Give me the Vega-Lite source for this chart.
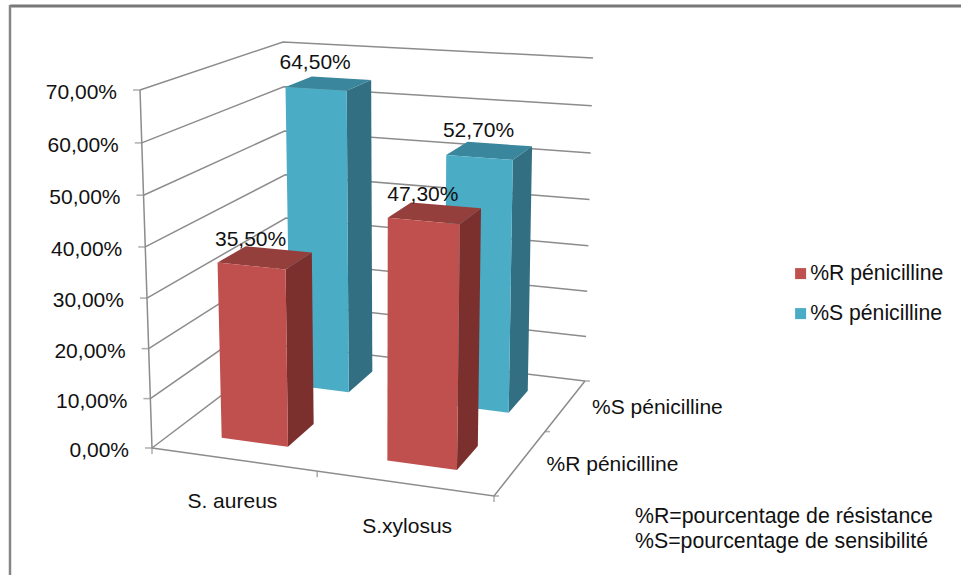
{
  "$schema": "https://vega.github.io/schema/vega-lite/v6.json",
  "width": 951,
  "height": 570,
  "autosize": "none",
  "padding": {"left": 10, "top": 5, "right": 0, "bottom": 0},
  "background": "white",
  "config": {"view": {"stroke": null}, "text": {"font": "Liberation Sans", "fontSize": 21, "color": "#111111"}},
  "title": {
    "text": ["%R=pourcentage de résistance", "%S=pourcentage de sensibilité"],
    "orient": "top", "anchor": "start", "frame": "group", "align": "left", "baseline": "top",
    "dx": 625, "dy": 549, "offset": 0, "lineHeight": 25,
    "font": "Liberation Sans", "fontSize": 21.3, "fontWeight": "normal", "color": "#111111"
  },
  "data": {"values": [
    {"kind": "bar", "category": "S. aureus", "series": "%R pénicilline", "value": 35.5},
    {"kind": "bar", "category": "S.xylosus", "series": "%R pénicilline", "value": 47.3},
    {"kind": "bar", "category": "S. aureus", "series": "%S pénicilline", "value": 64.5},
    {"kind": "bar", "category": "S.xylosus", "series": "%S pénicilline", "value": 52.7},
    {"kind": "grid", "value": 0},
    {"kind": "grid", "value": 10},
    {"kind": "grid", "value": 20},
    {"kind": "grid", "value": 30},
    {"kind": "grid", "value": 40},
    {"kind": "grid", "value": 50},
    {"kind": "grid", "value": 60},
    {"kind": "grid", "value": 70}
  ]},
  "transform": [
    {"calculate": "datum.series=='%R pénicilline'?(datum.category=='S. aureus'?0.142:0.637):(datum.category=='S. aureus'?0.150:0.645)", "as": "a0"},
    {"calculate": "datum.series=='%R pénicilline'?(datum.category=='S. aureus'?0.340:0.845):(datum.category=='S. aureus'?0.338:0.851)", "as": "a1"},
    {"calculate": "datum.series=='%R pénicilline'?0.163:0.672", "as": "d0"},
    {"calculate": "datum.series=='%R pénicilline'?0.376:0.867", "as": "d1"},
    {"calculate": "datum.kind=='bar'?[{part:'front',k:0,a:datum.a0,d:datum.d0,v:0},{part:'front',k:1,a:datum.a1,d:datum.d0,v:0},{part:'front',k:2,a:datum.a1,d:datum.d0,v:datum.value},{part:'front',k:3,a:datum.a0,d:datum.d0,v:datum.value},{part:'side',k:0,a:datum.a1,d:datum.d0,v:0},{part:'side',k:1,a:datum.a1,d:datum.d1,v:0},{part:'side',k:2,a:datum.a1,d:datum.d1,v:datum.value},{part:'side',k:3,a:datum.a1,d:datum.d0,v:datum.value},{part:'top',k:0,a:datum.a0,d:datum.d0,v:datum.value},{part:'top',k:1,a:datum.a1,d:datum.d0,v:datum.value},{part:'top',k:2,a:datum.a1,d:datum.d1,v:datum.value},{part:'top',k:3,a:datum.a0,d:datum.d1,v:datum.value},{part:'valuelabel',k:0,a:(datum.a0+datum.a1)/2,d:datum.d0,v:datum.value},{part:'catlabel',k:0,a:datum.category=='S. aureus'?0.235:0.746,d:0,v:0},{part:'serieslabel',k:0,a:1,d:(datum.d0+datum.d1)/2,v:0}]:datum.value===0?[{part:'grid',k:0,a:0,d:0,v:0},{part:'grid',k:1,a:0,d:1,v:0},{part:'grid',k:2,a:1,d:1,v:0},{part:'yaxis',k:0,a:0,d:0,v:0},{part:'floor',k:0,a:0,d:0,v:0},{part:'floor',k:1,a:1,d:0,v:0},{part:'floor',k:2,a:1,d:1,v:0},{part:'xtick',k:0,a:0,d:0,v:0},{part:'xtick',k:1,a:0.483,d:0,v:0},{part:'xtick',k:2,a:1,d:0,v:0},{part:'dtick',k:0,a:1,d:0,v:0},{part:'dtick',k:1,a:1,d:0.56,v:0},{part:'dtick',k:2,a:1,d:1,v:0}]:[{part:'grid',k:0,a:0,d:0,v:datum.value},{part:'grid',k:1,a:0,d:1,v:datum.value},{part:'grid',k:2,a:1,d:1,v:datum.value},{part:'yaxis',k:datum.value,a:0,d:0,v:datum.value}]", "as": "verts"},
    {"flatten": ["verts"]},
    {"calculate": "datum.verts.part", "as": "part"},
    {"calculate": "datum.verts.k", "as": "k"},
    {"calculate": "datum.verts.a", "as": "a"},
    {"calculate": "datum.verts.d", "as": "d"},
    {"calculate": "datum.verts.v/70", "as": "t"},
    {"calculate": "datum.t-0.04*datum.t*(1-datum.t)", "as": "f"},
    {"calculate": "(1-datum.a)*(1-datum.d)*152+datum.a*(1-datum.d)*494+datum.a*datum.d*585+(1-datum.a)*datum.d*288", "as": "xb"},
    {"calculate": "(1-datum.a)*(1-datum.d)*140+datum.a*(1-datum.d)*501+datum.a*datum.d*593+(1-datum.a)*datum.d*283", "as": "xt"},
    {"calculate": "(1-datum.a)*(1-datum.d)*448+datum.a*(1-datum.d)*496+datum.a*datum.d*381+(1-datum.a)*datum.d*345", "as": "yb"},
    {"calculate": "(1-datum.a)*(1-datum.d)*90+datum.a*(1-datum.d)*114+datum.a*datum.d*58+(1-datum.a)*datum.d*42", "as": "yt"},
    {"calculate": "datum.xb+datum.f*(datum.xt-datum.xb)", "as": "px"},
    {"calculate": "datum.yb+datum.f*(datum.yt-datum.yb)", "as": "py"},
    {"calculate": "replace(format(datum.value,'.2f'),'.',',')+'%'", "as": "pct"}
  ],
  "encoding": {
    "x": {"field": "px", "type": "quantitative",
      "scale": {"domain": [10, 961], "nice": false, "zero": false},
      "axis": null},
    "y": {"field": "py", "type": "quantitative",
      "scale": {"domain": [575, 5], "nice": false, "zero": false},
      "axis": null}
  },
  "layer": [
    {"transform": [{"filter": "datum.part=='floor' && datum.k==0"}],
     "mark": {"type": "rule", "color": "#787878", "strokeWidth": 3},
     "encoding": {"x": {"datum": 10}, "x2": {"datum": 961}, "y": {"datum": 6}}},
    {"transform": [{"filter": "datum.part=='floor' && datum.k==0"}],
     "mark": {"type": "rule", "color": "#868686", "strokeWidth": 2.5},
     "encoding": {"x": {"datum": 10}, "y": {"datum": 5}, "y2": {"datum": 575}}},

    {"transform": [{"filter": "datum.part=='grid'"}],
     "mark": {"type": "line", "color": "#8c8c8c", "strokeWidth": 1.5},
     "encoding": {"detail": {"field": "value"}, "order": {"field": "k"}}},
    {"transform": [{"filter": "datum.part=='yaxis'"}],
     "mark": {"type": "line", "color": "#8c8c8c", "strokeWidth": 1.5},
     "encoding": {"order": {"field": "k"}}},
    {"transform": [{"filter": "datum.part=='floor'"}],
     "mark": {"type": "line", "color": "#8c8c8c", "strokeWidth": 1.5},
     "encoding": {"order": {"field": "k"}}},
    {"transform": [{"filter": "datum.part=='yaxis'"}],
     "mark": {"type": "tick", "orient": "horizontal", "size": 7, "thickness": 1.5, "xOffset": -3.5, "color": "#8c8c8c"}},
    {"transform": [{"filter": "datum.part=='xtick'"}],
     "mark": {"type": "tick", "orient": "vertical", "size": 6, "thickness": 1.5, "yOffset": 3, "color": "#8c8c8c"}},
    {"transform": [{"filter": "datum.part=='dtick'"}],
     "mark": {"type": "tick", "orient": "horizontal", "size": 5, "thickness": 1.5, "xOffset": 2.5, "color": "#8c8c8c"}},

    {"transform": [{"filter": "datum.part=='side' && datum.series=='%S pénicilline'"}],
     "mark": {"type": "line", "interpolate": "linear-closed", "fill": "#336F82", "strokeWidth": 0},
     "encoding": {"detail": {"field": "category"}, "order": {"field": "k"}}},
    {"transform": [{"filter": "datum.part=='top' && datum.series=='%S pénicilline'"}],
     "mark": {"type": "line", "interpolate": "linear-closed", "fill": "#3A869C", "strokeWidth": 0},
     "encoding": {"detail": {"field": "category"}, "order": {"field": "k"}}},
    {"transform": [{"filter": "datum.part=='front' && datum.series=='%S pénicilline'"}],
     "mark": {"type": "line", "interpolate": "linear-closed", "strokeWidth": 0},
     "encoding": {
       "detail": {"field": "category"}, "order": {"field": "k"},
       "fill": {"field": "series", "type": "nominal",
         "scale": {"domain": ["%R pénicilline", "%S pénicilline"], "range": ["#C0504D", "#4BACC6"]},
         "legend": {"orient": "none", "legendX": 780, "legendY": 258, "title": null, "symbolType": "square", "symbolSize": 121, "symbolStrokeWidth": 0, "labelFont": "Liberation Sans", "labelFontSize": 21.2, "labelColor": "#111111", "labelOffset": -1, "rowPadding": 18, "padding": 0}}}},

    {"transform": [{"filter": "datum.part=='side' && datum.series=='%R pénicilline'"}],
     "mark": {"type": "line", "interpolate": "linear-closed", "fill": "#7B302E", "strokeWidth": 0},
     "encoding": {"detail": {"field": "category"}, "order": {"field": "k"}}},
    {"transform": [{"filter": "datum.part=='top' && datum.series=='%R pénicilline'"}],
     "mark": {"type": "line", "interpolate": "linear-closed", "fill": "#953F3C", "strokeWidth": 0},
     "encoding": {"detail": {"field": "category"}, "order": {"field": "k"}}},
    {"transform": [{"filter": "datum.part=='front' && datum.series=='%R pénicilline'"}],
     "mark": {"type": "line", "interpolate": "linear-closed", "strokeWidth": 0},
     "encoding": {
       "detail": {"field": "category"}, "order": {"field": "k"},
       "fill": {"field": "series", "type": "nominal"}}},

    {"transform": [{"filter": "datum.part=='valuelabel'"}],
     "mark": {"type": "text", "align": "center", "baseline": "middle", "dy": -26, "dx": -1},
     "encoding": {"text": {"field": "pct"}}},
    {"transform": [{"filter": "datum.part=='yaxis'"}],
     "mark": {"type": "text", "align": "right", "baseline": "middle", "dx": -23, "dy": 3},
     "encoding": {"text": {"field": "pct"}}},
    {"transform": [{"filter": "datum.part=='catlabel' && datum.series=='%R pénicilline'"}],
     "mark": {"type": "text", "align": "center", "baseline": "middle", "dy": 43},
     "encoding": {"text": {"field": "category"}}},
    {"transform": [{"filter": "datum.part=='serieslabel' && datum.category=='S. aureus'"}],
     "mark": {"type": "text", "align": "left", "baseline": "middle", "dx": 28, "dy": 0},
     "encoding": {"text": {"field": "series"}}}
  ]
}
